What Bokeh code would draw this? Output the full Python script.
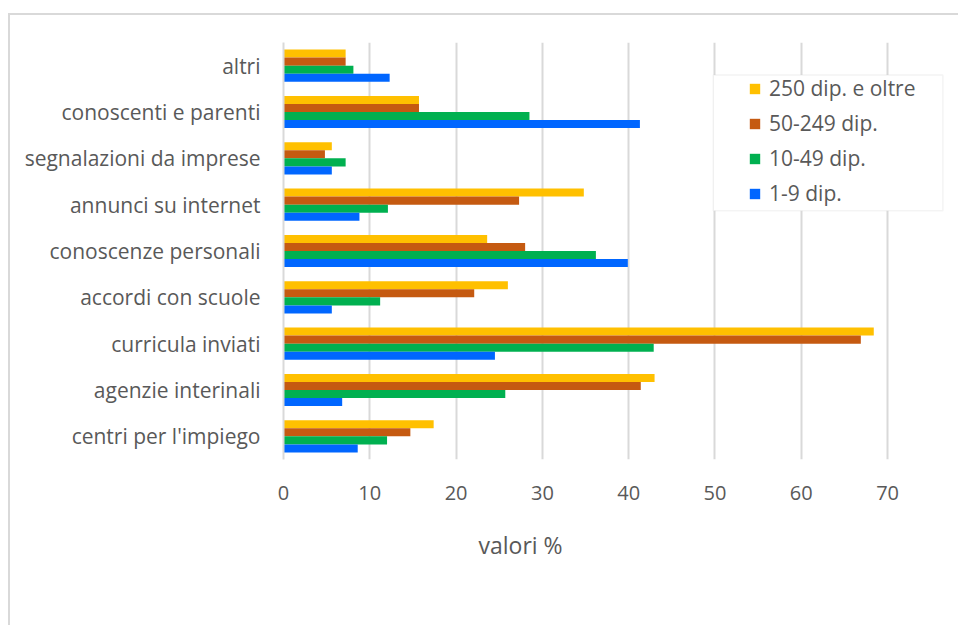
from bokeh.plotting import figure
from bokeh.models import (ColumnDataSource, FactorRange, Range1d, Legend, LegendItem,
                          BoxAnnotation, Title, FixedTicker)
from bokeh.transform import dodge
from bokeh.embed import file_html
from bokeh.resources import INLINE

# Canali di reclutamento, dal basso verso l'alto
categories = [
    "centri per l'impiego",
    "agenzie interinali",
    "curricula inviati",
    "accordi con scuole",
    "conoscenze personali",
    "annunci su internet",
    "segnalazioni da imprese",
    "conoscenti e parenti",
    "altri",
]

# Valori % per classe dimensionale
dip_250_oltre = [17.4, 43.0, 68.4, 26.0, 23.6, 34.8, 5.6, 15.7, 7.2]
dip_50_249 = [14.7, 41.4, 66.9, 22.1, 28.0, 27.3, 4.8, 15.7, 7.2]
dip_10_49 = [12.0, 25.7, 42.9, 11.2, 36.2, 12.1, 7.2, 28.5, 8.1]
dip_1_9 = [8.6, 6.8, 24.5, 5.6, 39.9, 8.8, 5.6, 41.3, 12.3]

series_names = ["250 dip. e oltre", "50-249 dip.", "10-49 dip.", "1-9 dip."]
x_ticks = [0, 10, 20, 30, 40, 50, 60, 70]

source = ColumnDataSource(dict(
    cat=categories,
    s250=dip_250_oltre,
    s50=dip_50_249,
    s10=dip_10_49,
    s1=dip_1_9,
))

FONT = "Open Sans"
TXT = "#595959"
GRID = "#d9d9d9"

p = figure(
    width=950, height=612,
    y_range=FactorRange(*categories, range_padding=0),
    x_range=Range1d(0, 78.45),
    output_backend="svg", toolbar_location=None,
    min_border_left=273, min_border_right=0,
    min_border_top=27, min_border_bottom=168,
    # cornice esterna del grafico (lati superiore e sinistro)
    styles={
        "margin-left": "8px",
        "margin-top": "13px",
        "border-left": f"2px solid {GRID}",
        "border-top": f"2px solid {GRID}",
    },
)
p.outline_line_color = None
p.background_fill_color = "white"
p.border_fill_color = "white"

colors = ["#FFC000", "#C55A11", "#00B050", "#0066FF"]
fields = ["s250", "s50", "s10", "s1"]
offsets = [0.261, 0.087, -0.087, -0.261]
bar_h = 0.174

renderers = []
for f, c, off in zip(fields, colors, offsets):
    r = p.hbar(y=dodge("cat", off, range=p.y_range), right=f, left=0,
               height=bar_h, source=source, fill_color=c, line_color=None)
    renderers.append(r)

# griglia verticale
p.ygrid.grid_line_color = None
p.xgrid.grid_line_color = GRID
p.xgrid.grid_line_width = 2
p.xaxis.ticker = FixedTicker(ticks=x_ticks)

# assi
p.xaxis.axis_line_color = None
p.xaxis.major_tick_line_color = None
p.xaxis.minor_tick_line_color = None
p.xaxis.major_label_standoff = 20
p.xaxis.major_label_text_font = FONT
p.xaxis.major_label_text_font_size = "20px"
p.xaxis.major_label_text_color = TXT

p.yaxis.axis_line_color = GRID
p.yaxis.axis_line_width = 2
p.yaxis.major_tick_line_color = None
p.yaxis.minor_tick_line_color = None
p.yaxis.major_label_standoff = 17
p.yaxis.major_label_text_font = FONT
p.yaxis.major_label_text_font_size = "21px"
p.yaxis.major_label_text_color = TXT

# titolo dell'asse orizzontale
p.add_layout(Title(text="valori %", align="left", offset=195, standoff=48,
                   text_font=FONT, text_font_size="23px", text_font_style="normal",
                   text_color=TXT), "below")

# riquadro della legenda
p.add_layout(BoxAnnotation(left=49.8, right=76.4, top=8.30, bottom=5.37,
                           fill_color="white", fill_alpha=1.0,
                           line_color=GRID, line_width=1.5))

legend = Legend(
    items=[LegendItem(label=n, renderers=[r]) for n, r in zip(series_names, renderers)],
    location=(465, 252),
    padding=0, margin=0, spacing=7,
    glyph_width=13, glyph_height=13, label_height=20,
    label_standoff=8,
    border_line_color=None, background_fill_alpha=0,
    label_text_font=FONT, label_text_font_size="21px", label_text_color=TXT,
)
p.add_layout(legend)

open("out.html", "w").write(file_html(p, INLINE))
